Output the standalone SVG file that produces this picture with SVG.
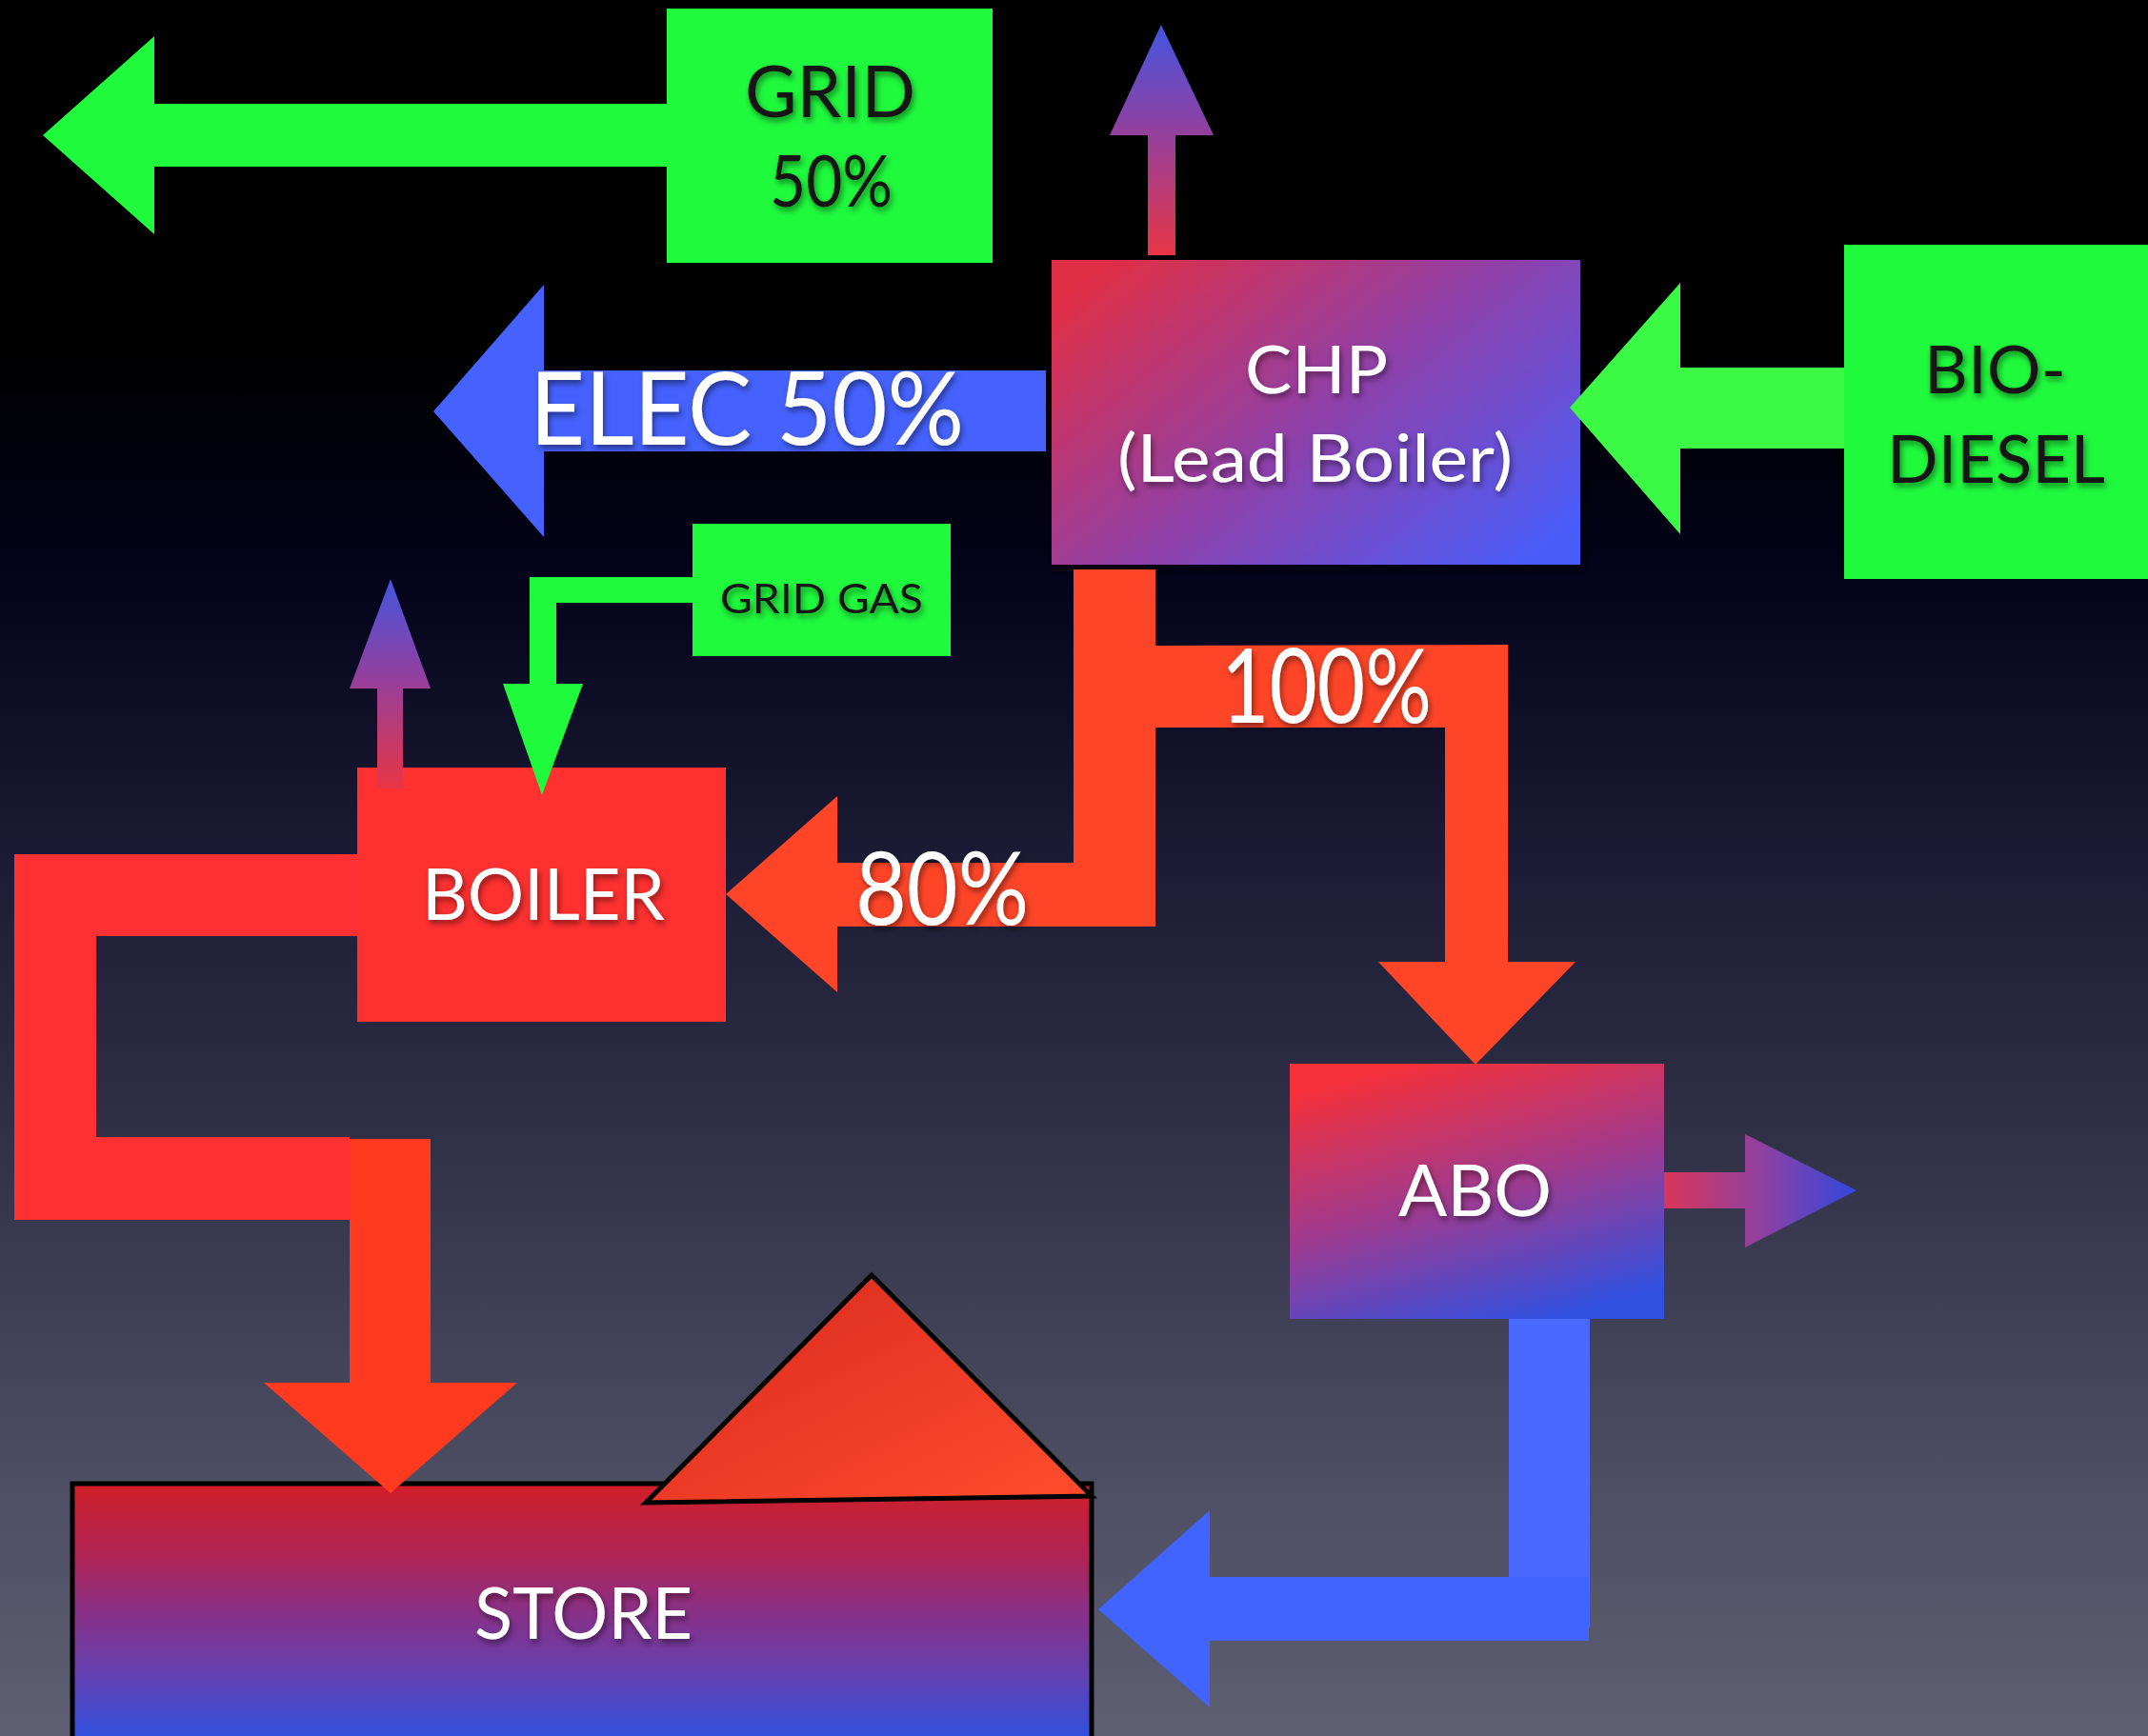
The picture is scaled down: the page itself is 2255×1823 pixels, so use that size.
<svg xmlns="http://www.w3.org/2000/svg" width="2255" height="1823" viewBox="0 0 2255 1823">
<defs>
<linearGradient id="bg" x1="0" y1="0" x2="0" y2="1">
<stop offset="0" stop-color="#000000"/><stop offset="0.2" stop-color="#000000"/><stop offset="0.33" stop-color="#03031A"/><stop offset="0.5" stop-color="#1C1C36"/><stop offset="0.62" stop-color="#2B2B42"/><stop offset="0.75" stop-color="#3E3E55"/><stop offset="0.86" stop-color="#4E4E64"/><stop offset="1" stop-color="#5E5F72"/>
</linearGradient>
<linearGradient id="gChp" x1="0" y1="0.15" x2="1" y2="0.85">
<stop offset="0" stop-color="#E02E45"/><stop offset="0.5" stop-color="#9040A8"/><stop offset="1" stop-color="#4A5CF8"/>
</linearGradient>
<linearGradient id="gAbo" x1="0.3" y1="0" x2="0.7" y2="1">
<stop offset="0" stop-color="#F5303A"/><stop offset="0.5" stop-color="#A03A8E"/><stop offset="1" stop-color="#3050E0"/>
</linearGradient>
<linearGradient id="gStore" gradientUnits="userSpaceOnUse" x1="0" y1="1558" x2="0" y2="1823">
<stop offset="0" stop-color="#D01E28"/><stop offset="0.3" stop-color="#AE2558"/><stop offset="0.5" stop-color="#8A3085"/><stop offset="0.75" stop-color="#6540B0"/><stop offset="1" stop-color="#3050DD"/>
</linearGradient>
<linearGradient id="gTri" x1="0" y1="0" x2="1" y2="1">
<stop offset="0" stop-color="#D8281F"/><stop offset="1" stop-color="#FF4D2C"/>
</linearGradient>
<linearGradient id="gUp" x1="0" y1="1" x2="0" y2="0">
<stop offset="0" stop-color="#E83545"/><stop offset="0.55" stop-color="#9040A0"/><stop offset="1" stop-color="#4455E0"/>
</linearGradient>
<linearGradient id="gRight" x1="0" y1="0" x2="1" y2="0">
<stop offset="0" stop-color="#D83558"/><stop offset="0.5" stop-color="#9040A0"/><stop offset="1" stop-color="#3048E0"/>
</linearGradient>
<filter id="ts" x="-10%" y="-20%" width="130%" height="150%">
<feDropShadow dx="2" dy="4" stdDeviation="3" flood-color="#000" flood-opacity="0.45"/>
</filter>
<filter id="bs" x="-5%" y="-5%" width="115%" height="115%">
<feDropShadow dx="3" dy="5" stdDeviation="4" flood-color="#000" flood-opacity="0.6"/>
</filter>
</defs>
<style>
.t{font-family:Lato,"Liberation Sans",sans-serif;filter:url(#ts)}
.w{fill:#FFFFFF}
.d{fill:#141414}
.green{fill:#1FFA3D}
.heat{fill:#FF4528}
.elec{fill:#4562FF}
</style>
<rect x="0" y="0" width="2255" height="1823" fill="url(#bg)"/>

<g id="grid">
<rect x="700" y="9" width="342" height="267" fill="#1FFA3D"/>
<text class="t d" x="782" y="123" font-size="75" textLength="179" lengthAdjust="spacingAndGlyphs">GRID</text>
<text class="t d" x="808" y="217" font-size="75" textLength="129" lengthAdjust="spacingAndGlyphs">50%</text>
</g>

<g id="chp">
<rect x="1104" y="273" width="555" height="320" fill="url(#gChp)" filter="url(#bs)"/>
<text class="t w" x="1307" y="413" font-size="69" textLength="150" lengthAdjust="spacingAndGlyphs">CHP</text>
<text class="t w" x="1173" y="506" font-size="69" textLength="415" lengthAdjust="spacingAndGlyphs">(Lead Boiler)</text>
</g>

<g id="biodiesel">
<rect x="1936" y="257" width="319" height="351" fill="#1FFA3D"/>
<text class="t d" x="2020" y="413" font-size="70" textLength="149" lengthAdjust="spacingAndGlyphs">BIO-</text>
<text class="t d" x="1981" y="507" font-size="70" textLength="229" lengthAdjust="spacingAndGlyphs">DIESEL</text>
</g>

<g id="gridgas">
<rect x="727" y="550" width="271" height="139" fill="#1FFA3D"/>
<text class="t d" x="756" y="644" font-size="42" textLength="213" lengthAdjust="spacingAndGlyphs">GRID GAS</text>
</g>

<g id="boiler">
<rect x="375" y="806" width="387" height="267" fill="#FF3030"/>
<text class="t w" x="443" y="966" font-size="75" textLength="255" lengthAdjust="spacingAndGlyphs">BOILER</text>
</g>

<g id="abo">
<rect x="1354" y="1117" width="393" height="268" fill="url(#gAbo)"/>
<text class="t w" x="1468" y="1277" font-size="75" textLength="161" lengthAdjust="spacingAndGlyphs">ABO</text>
</g>

<g id="store">
<rect x="76" y="1558" width="1070" height="280" fill="url(#gStore)" stroke="#000" stroke-width="5"/>
<polygon points="915,1339 1146,1571 678,1578" fill="url(#gTri)" stroke="#000" stroke-width="5" stroke-linejoin="miter"/>
<text class="t w" x="498" y="1721" font-size="76" textLength="229" lengthAdjust="spacingAndGlyphs">STORE</text>
</g>

<g id="connectors">
<polygon class="green" points="45,142 162,38 162,109 700,109 700,175 162,175 162,246"/>
<polygon fill="url(#gUp)" points="1219,26 1274,142 1234,142 1234,268 1205,268 1205,142 1165,142"/>
<polygon class="elec" points="455,432 571,299 571,389 1098,389 1098,474 571,474 571,564"/>
<polygon fill="#3CF946" points="1648,428 1764,297 1764,386 1936,386 1936,471 1764,471 1764,561"/>
<polygon class="green" points="727,606 556,606 556,718 528,718 569,835 612,718 584,718 584,633 727,633"/>
<polygon fill="url(#gUp)" points="410,608 452,723 423,723 423,828 396,828 396,723 367,723"/>
<polygon class="heat" points="1127,598 1213,598 1213,973 879,973 879,1042 762,939 879,836 879,906 1127,906"/>
<polygon class="heat" points="1213,678 1583,677 1583,1010 1654,1010 1549,1118 1447,1010 1517,1010 1517,764 1213,764"/>
<polygon fill="#FF3033" points="375,897 375,983 101,983 101,1194 367,1194 367,1281 15,1281 15,897"/>
<polygon fill="#FF3A1E" points="367,1196 452,1196 452,1452 543,1452 410,1568 277,1452 367,1452"/>
<polygon fill="url(#gRight)" points="1747,1231 1832,1231 1832,1191 1949,1250 1832,1310 1832,1269 1747,1269"/>
<rect x="1584" y="1385" width="85" height="324" fill="#4A69FF"/>
<polygon fill="#4164FF" points="1668,1656 1668,1723 1270,1723 1270,1793 1153,1690 1270,1586 1270,1656"/>
</g>

<g id="labels">
<text class="t w" x="556" y="467" font-size="106" textLength="456" lengthAdjust="spacingAndGlyphs">ELEC 50%</text>
<text class="t w" x="898" y="971" font-size="107" textLength="182" lengthAdjust="spacingAndGlyphs">80%</text>
<text class="t w" x="1282" y="759" font-size="108" textLength="221" lengthAdjust="spacingAndGlyphs">100%</text>
</g>
</svg>
